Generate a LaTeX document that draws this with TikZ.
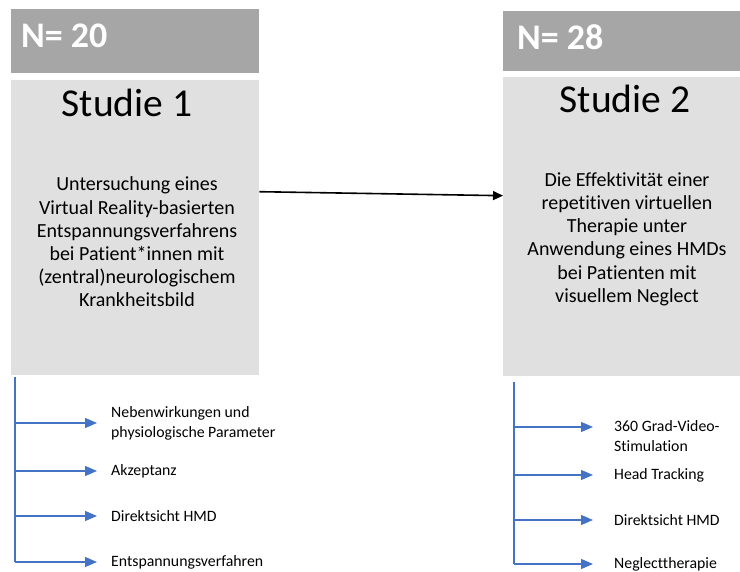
\documentclass[tikz,border=0pt]{standalone}
\usepackage{fontspec}
\setmainfont{Carlito}[Ligatures=NoCommon]
\usetikzlibrary{arrows.meta, calc}
\definecolor{hd}{HTML}{A6A6A6}
\definecolor{bx}{HTML}{E0E0E0}
\definecolor{bl}{HTML}{4472C4}

\tikzset{
    header/.style={fill=hd, inner sep=0pt, anchor=north west},
    studybox/.style={fill=bx, inner sep=0pt, anchor=north west},
    ntext/.style={text=white, font=\bfseries\fontsize{36}{40}\selectfont, anchor=base west, inner sep=0pt},
    title/.style={font=\fontsize{39.5}{44}\selectfont, anchor=base, inner sep=0pt},
    body/.style={font=\fontsize{20}{23.2}\selectfont, align=center, inner sep=0pt},
    item/.style={font=\fontsize{15.8}{20}\selectfont, align=left, anchor=west, inner sep=0pt},
    trunk/.style={bl, line width=1.3pt},
    branch/.style={bl, line width=1.3pt, -{Triangle[length=12pt,width=10pt]}},
    link/.style={black, line width=1.6pt, -{Triangle[length=10pt,width=9pt]}}
}

\begin{document}
\begin{tikzpicture}[x=1pt, y=-1pt]
    \useasboundingbox (0,0) rectangle (740,572);

    % Study 1
    \node[header, minimum width=248pt, minimum height=64pt] (h1) at (11,9) {};
    \node[ntext] (n1) at (21,48) {N= 20};
    \node[studybox, minimum width=248pt, minimum height=295pt] (s1) at (11,80) {};
    \node[title] (t1) at (127,117) {Studie 1};
    \node[body] (d1) at (137,242) {Untersuchung eines\\Virtual Reality-basierten\\Entspannungsverfahrens\\bei Patient*innen mit\\(zentral)neurologischem\\Krankheitsbild};

    % Study 2
    \node[header, minimum width=237pt, minimum height=60pt] (h2) at (503,11) {};
    \node[ntext] (n2) at (517,50) {N= 28};
    \node[studybox, minimum width=237pt, minimum height=299pt] (s2) at (503,77) {};
    \node[title] (t2) at (625,113) {Studie 2};
    \node[body] (d2) at (627,239) {Die Effektivität einer\\repetitiven virtuellen\\Therapie unter\\Anwendung eines HMDs\\bei Patienten mit\\visuellem Neglect};

    % Link between the studies
    \draw[link] ([yshift=36pt]s1.east) -- ([yshift=31pt]s2.west);

    % Outcomes study 1
    \node[item] (a1) at (111,423) {Nebenwirkungen und\\physiologische Parameter};
    \node[item] (a2) at (111,471) {Akzeptanz};
    \node[item] (a3) at (111,516) {Direktsicht HMD};
    \node[item] (a4) at (111,562) {Entspannungsverfahren};
    \coordinate (l1) at (15,377);
    \draw[trunk] (l1) -- (l1 |- a4.west);
    \foreach \n in {a1,a2,a3,a4}
        \draw[branch, shorten >=14pt] (l1 |- \n.west) -- (\n.west);

    % Outcomes study 2
    \node[item] (b1) at (614,436) {360 Grad-Video-\\Stimulation};
    \node[item] (b2) at (614,475) {Head Tracking};
    \node[item] (b3) at (614,520) {Direktsicht HMD};
    \node[item] (b4) at (614,564) {Neglecttherapie};
    \coordinate (l2) at (514,382);
    \coordinate (b1e) at ([yshift=9pt]b1.west);
    \draw[trunk] (l2) -- (l2 |- b4.west);
    \draw[branch, shorten >=21pt] (l2 |- b1e) -- (b1e);
    \foreach \n in {b2,b3,b4}
        \draw[branch, shorten >=21pt] (l2 |- \n.west) -- (\n.west);
\end{tikzpicture}
\end{document}
